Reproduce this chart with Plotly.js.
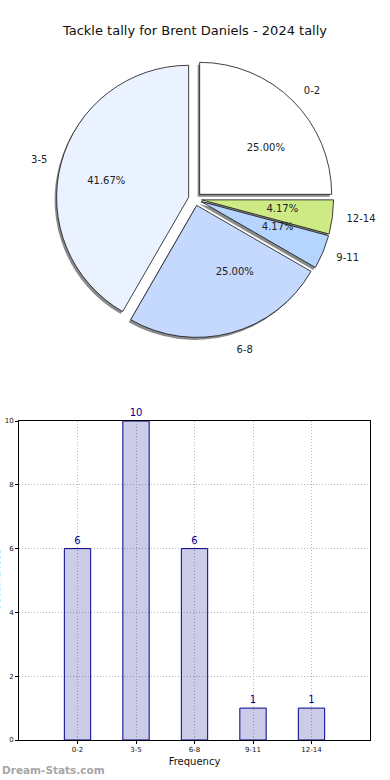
<!DOCTYPE html>
<html>
<head>
<meta charset="utf-8">
<script src="https://cdn.plot.ly/plotly-3.0.1.min.js"></script>
<style>html,body{margin:0;padding:0;background:#fff;}#chart{width:390px;height:780px;}</style>
</head>
<body>
<div id="chart"></div>
<script>
const categories = ["0-2", "3-5", "6-8", "9-11", "12-14"];
const counts = [6, 10, 6, 1, 1];
const sliceColors = ["#ffffff", "#ebf2ff", "#c5d9ff", "#b5d5ff", "#cdea85"];
const chartTitle = "Tackle tally for Brent Daniels - 2024 tally";
const xTitle = "Frequency";
const yTitle = "Occurrences";
const watermark = "Dream-Stats.com";

const W = 390, H = 780;
const FONT = "DejaVu Sans, Verdana, sans-serif";
function dom(cx, cy, r, pull) {
  const h = r * (1 + pull);
  return { x: [(cx - h) / W, (cx + h) / W], y: [1 - (cy + h) / H, 1 - (cy - h) / H] };
}
const PULL = 0.05;
const pulls = categories.map(() => PULL);
const clear = categories.map(() => "rgba(0,0,0,0)");

const common = {
  type: "pie", labels: categories, values: counts, sort: false,
  direction: "counterclockwise", rotation: 0, hoverinfo: "none", showlegend: false
};

const shadow = Object.assign({}, common, {
  domain: dom(193, 201.5, 132, PULL), pull: pulls,
  marker: { colors: categories.map(() => "#8a8a8a"), line: { width: 0 } },
  textinfo: "none"
});
const main = Object.assign({}, common, {
  domain: dom(195, 199, 132, PULL), pull: pulls,
  marker: { colors: sliceColors, line: { color: "#111", width: 0.8 } },
  textinfo: "none"
});
const pct = Object.assign({}, common, {
  domain: dom(195, 199, 66, PULL), pull: pulls,
  marker: { colors: clear, line: { width: 0 } },
  texttemplate: "%{percent:.2%}", textposition: "outside",
  outsidetextfont: { family: FONT, size: 10, color: "#222" }
});
const lbl = Object.assign({}, common, {
  domain: dom(195, 199, 150, 0), pull: 0,
  marker: { colors: clear, line: { width: 0 } },
  texttemplate: "%{label}", textposition: "outside",
  outsidetextfont: { family: FONT, size: 10, color: "#222" }
});

const bars = {
  type: "bar", x: categories, y: counts, width: 0.45,
  marker: { color: "rgba(0,0,139,0.2)", line: { color: "#00008b", width: 1 } },
  text: counts.map(String), textposition: "outside", cliponaxis: false,
  textfont: { family: FONT, size: 10, color: "#00008b" },
  hoverinfo: "none", showlegend: false, xaxis: "x", yaxis: "y"
};

const layout = {
  width: W, height: H, margin: { l: 0, r: 0, t: 0, b: 0 },
  paper_bgcolor: "#fff", plot_bgcolor: "#fff",
  font: { family: FONT, color: "#111" },
  showlegend: false,
  title: { text: chartTitle, font: { family: FONT, size: 13, color: "#111" },
           x: 0.5, xanchor: "center", y: 1 - 30 / H, yanchor: "middle", xref: "paper", yref: "paper" },
  xaxis: {
    domain: [19 / W, 370 / W], type: "category", range: [-1, 5],
    showline: true, mirror: true, linecolor: "#000", linewidth: 1,
    showgrid: true, gridcolor: "#b8b8b8", griddash: "1px,2px", gridwidth: 1,
    ticks: "outside", ticklen: 3, tickcolor: "#000",
    tickfont: { family: FONT, size: 7, color: "#111" },
    title: { text: xTitle, font: { family: FONT, size: 10, color: "#111" }, standoff: 4 },
    zeroline: false, fixedrange: true
  },
  yaxis: {
    domain: [1 - 740 / H, 1 - 421 / H], range: [0, 10], dtick: 2,
    showline: true, mirror: true, linecolor: "#000", linewidth: 1,
    showgrid: true, gridcolor: "#b8b8b8", griddash: "1px,2px", gridwidth: 1,
    ticks: "outside", ticklen: 3, tickcolor: "#000",
    tickfont: { family: FONT, size: 7, color: "#111" },
    zeroline: false, fixedrange: true
  },
  annotations: [{
    text: watermark, xref: "paper", yref: "paper", x: 0, y: 1 - 770 / H,
    xanchor: "left", yanchor: "middle", showarrow: false,
    font: { family: FONT, size: 10.5, color: "#a6a6a6", weight: "bold" }
  }, {
    text: yTitle, xref: "paper", yref: "y domain", x: -4 / W, y: 0.5,
    xanchor: "center", yanchor: "middle", textangle: -90, showarrow: false,
    font: { family: FONT, size: 10, color: "#111" }
  }]
};

Plotly.newPlot("chart", [shadow, main, pct, lbl, bars], layout, { staticPlot: true, displayModeBar: false });
</script>
</body>
</html>
